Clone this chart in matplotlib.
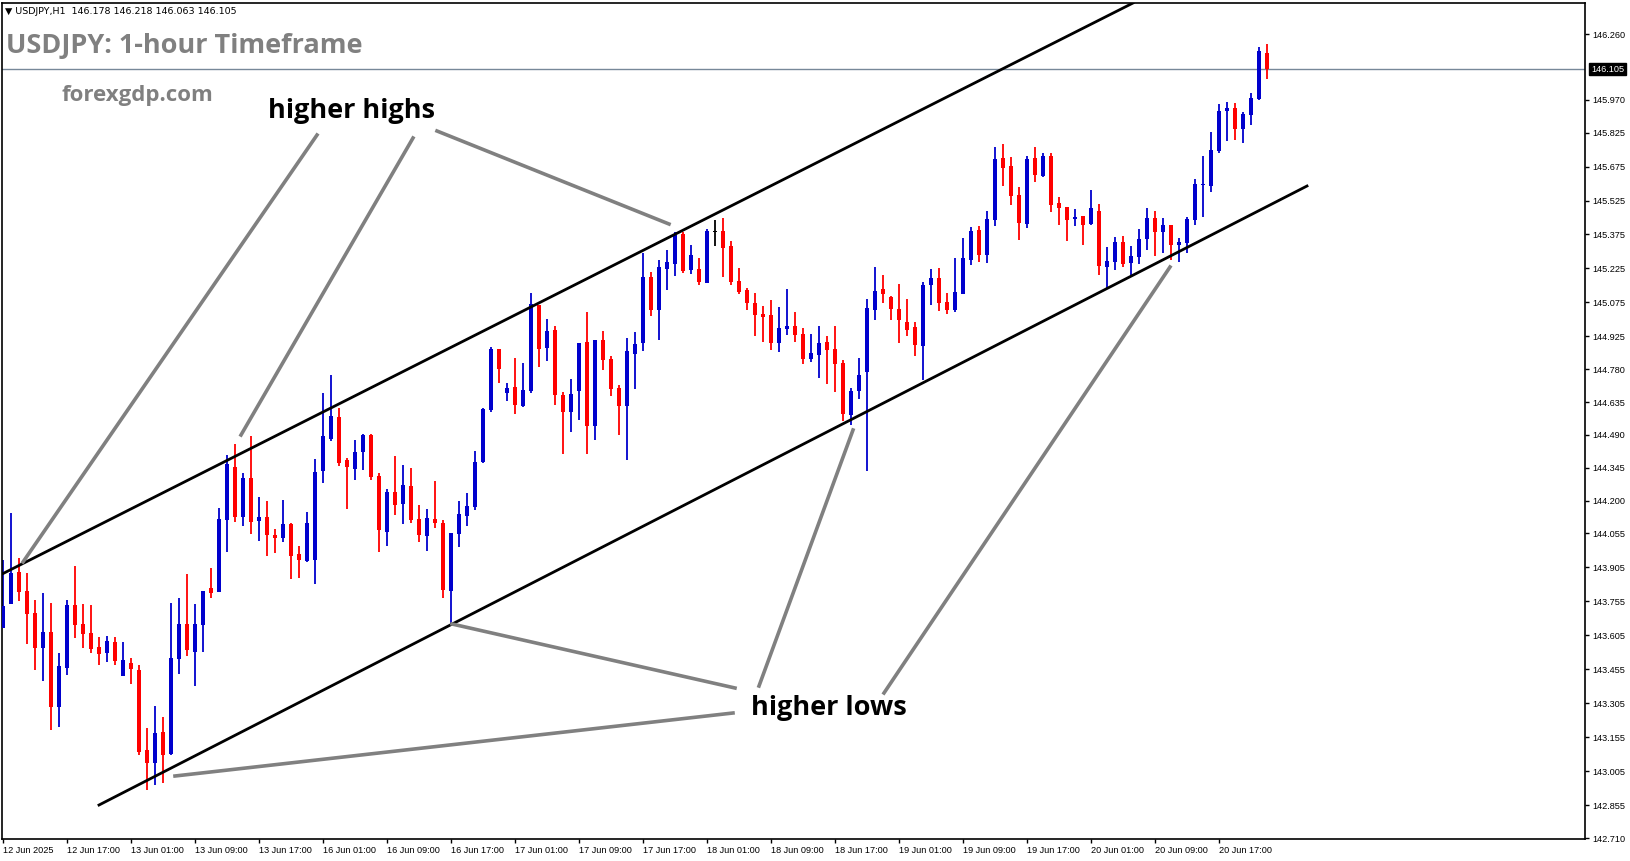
import matplotlib
matplotlib.use("Agg")
import matplotlib.pyplot as plt
import numpy as np

# OHLC per hourly bar (12 Jun 2025 09:00 ... 20 Jun 2025 18:00, weekend skipped)
opens = [143.637,143.743,143.885,143.801,143.704,143.549,143.620,143.289,143.461,143.739,
         143.655,143.615,143.554,143.527,143.576,143.425,143.483,143.452,143.099,143.041,
         143.178,143.081,143.501,143.655,143.532,143.651,143.814,143.796,144.114,144.348,
         144.127,144.300,144.110,144.127,144.048,144.035,144.097,143.964,143.933,143.938,
         144.330,144.472,144.569,144.379,144.339,144.414,144.490,144.309,144.061,144.238,
         144.185,144.264,144.119,144.044,144.119,144.101,143.801,144.053,144.132,144.172,
         144.370,144.600,144.869,144.675,144.702,144.618,144.684,145.063,144.874,144.953,
         144.666,144.591,144.684,144.900,144.529,144.909,144.825,144.697,144.618,144.847,
         144.896,145.187,145.041,145.222,145.244,145.377,145.218,145.222,145.160,145.390,
         145.390,145.324,145.169,145.130,145.072,145.024,145.019,144.896,144.958,144.971,
         144.935,144.825,144.843,144.900,144.869,144.807,144.578,144.684,144.768,145.041,
         145.134,145.099,145.046,144.988,144.966,144.882,145.152,145.183,145.077,145.041,
         145.112,145.262,145.395,145.284,145.439,145.712,145.677,145.549,145.421,145.712,
         145.633,145.721,145.514,145.496,145.443,145.456,145.421,145.478,145.231,145.253,
         145.342,145.249,145.275,145.355,145.447,145.386,145.417,145.328,145.337,145.439,
         145.593,145.589,145.743,145.920,145.933,145.840,145.902,145.973,146.178]
highs = [143.938,144.145,143.947,143.880,143.761,143.792,143.748,143.527,143.761,143.911,
         143.743,143.739,143.598,143.602,143.598,143.576,143.505,143.474,143.196,143.293,
         143.244,143.748,143.770,143.876,143.743,143.801,143.902,144.167,144.401,144.450,
         144.322,144.485,144.216,144.198,144.075,144.202,144.101,143.999,144.150,144.384,
         144.675,144.754,144.609,144.388,144.467,144.494,144.494,144.322,144.251,144.397,
         144.357,144.344,144.180,144.163,144.287,144.114,144.057,144.198,144.233,144.419,
         144.609,144.878,144.869,144.719,144.829,144.807,145.116,145.063,145.002,144.971,
         144.679,144.737,144.896,145.033,144.909,144.949,144.838,144.710,144.918,144.944,
         145.293,145.209,145.262,145.306,145.386,145.386,145.328,145.271,145.399,145.439,
         145.447,145.346,145.227,145.139,145.116,145.059,145.086,145.055,145.134,145.033,
         144.962,144.935,144.971,144.927,144.971,144.821,144.697,144.829,145.090,145.231,
         145.196,145.103,145.156,145.090,144.988,145.165,145.222,145.227,145.116,145.271,
         145.359,145.408,145.412,145.478,145.761,145.774,145.717,145.584,145.721,145.761,
         145.735,145.735,145.540,145.496,145.487,145.456,145.571,145.509,145.320,145.364,
         145.368,145.324,145.399,145.492,145.478,145.447,145.417,145.359,145.452,145.620,
         145.721,145.827,145.951,145.960,145.955,145.916,145.999,146.202,146.218]
lows = [143.637,143.743,143.757,143.567,143.452,143.403,143.187,143.200,143.430,143.593,
        143.549,143.527,143.474,143.487,143.474,143.425,143.390,143.077,142.922,142.944,
        142.953,143.077,143.434,143.514,143.381,143.532,143.770,143.796,143.973,144.105,
        144.088,144.053,144.022,143.955,143.969,144.017,143.854,143.858,143.929,143.832,
        144.278,144.463,144.353,144.163,144.291,144.335,144.291,143.973,143.999,144.136,
        144.097,144.101,144.017,143.977,144.079,143.770,143.655,143.995,144.088,144.158,
        144.366,144.591,144.719,144.640,144.582,144.613,144.675,144.790,144.816,144.622,
        144.406,144.503,144.556,144.406,144.467,144.776,144.662,144.490,144.379,144.693,
        144.860,145.015,144.909,145.130,145.191,145.205,145.200,145.152,145.160,145.324,
        145.187,145.152,145.112,145.041,144.927,144.900,144.865,144.856,144.931,144.900,
        144.803,144.812,144.741,144.715,144.679,144.551,144.534,144.648,144.330,144.997,
        145.072,144.997,144.896,144.927,144.838,144.732,145.063,145.037,145.024,145.033,
        145.112,145.240,145.253,145.249,145.412,145.589,145.505,145.350,145.403,145.606,
        145.629,145.474,145.417,145.346,145.412,145.328,145.417,145.196,145.134,145.218,
        145.231,145.187,145.244,145.306,145.280,145.293,145.262,145.253,145.293,145.417,
        145.452,145.562,145.735,145.787,145.792,145.779,145.858,145.969,146.063]
closes = [143.735,143.880,143.796,143.699,143.549,143.620,143.289,143.470,143.739,143.651,
          143.611,143.545,143.523,143.580,143.492,143.496,143.456,143.090,143.041,143.174,
          143.077,143.505,143.655,143.540,143.655,143.801,143.792,144.119,144.361,144.127,
          144.300,144.105,144.127,144.048,144.035,144.097,143.955,143.938,144.101,144.326,
          144.485,144.573,144.366,144.348,144.414,144.490,144.304,144.070,144.238,144.180,
          144.269,144.114,144.048,144.123,144.101,143.805,144.057,144.141,144.176,144.370,
          144.604,144.869,144.781,144.697,144.622,144.688,145.068,144.869,144.949,144.666,
          144.591,144.670,144.896,144.529,144.909,144.821,144.693,144.618,144.860,144.891,
          145.187,145.041,145.231,145.253,145.372,145.214,145.284,145.165,145.390,145.390,
          145.315,145.165,145.121,145.072,145.019,145.010,144.896,144.962,144.971,144.931,
          144.825,144.852,144.896,144.865,144.803,144.582,144.684,144.754,145.050,145.125,
          145.112,145.046,144.997,144.953,144.887,145.152,145.183,145.072,145.041,145.121,
          145.271,145.390,145.284,145.443,145.708,145.668,145.545,145.425,145.708,145.637,
          145.721,145.505,145.492,145.439,145.452,145.417,145.492,145.236,145.258,145.342,
          145.244,145.280,145.355,145.447,145.386,145.417,145.328,145.342,145.443,145.598,
          145.598,145.748,145.920,145.933,145.840,145.907,145.977,146.185,146.105]

price_ticks = [146.260,145.970,145.825,145.675,145.525,145.375,145.225,145.075,144.925,
               144.780,144.635,144.490,144.345,144.200,144.055,143.905,143.755,143.605,
               143.455,143.305,143.155,143.005,142.855,142.710]
time_labels = ["12 Jun 2025","12 Jun 17:00","13 Jun 01:00","13 Jun 09:00","13 Jun 17:00",
               "16 Jun 01:00","16 Jun 09:00","16 Jun 17:00","17 Jun 01:00","17 Jun 09:00",
               "17 Jun 17:00","18 Jun 01:00","18 Jun 09:00","18 Jun 17:00","19 Jun 01:00",
               "19 Jun 09:00","19 Jun 17:00","20 Jun 01:00","20 Jun 09:00","20 Jun 17:00"]
upper_line = ([0, 141.25], [143.878, 146.397])
lower_line = ([12, 163], [142.856, 145.589])
last_price = 146.105

W, H = 1631, 861
fig = plt.figure(figsize=(W/100, H/100), dpi=100)
fig.patch.set_facecolor("white")
ax = fig.add_axes([2/W, 1-839/H, (1585-2)/W, (839-3)/H])

o = np.array(opens); h = np.array(highs); l = np.array(lows); c = np.array(closes)
idx = np.arange(len(o))
BLUE, RED = "#0000CD", "#FF0000"
cols = np.where(c > o, BLUE, np.where(c < o, RED, "black"))
ax.vlines(idx, l, h, colors=cols, linewidth=1.3, zorder=2)
body = np.where(np.abs(c-o) < 0.004, 0.004, c-o)
ax.bar(idx, body, bottom=np.where(np.abs(c-o) < 0.004, o-0.002, o), width=0.62,
       color=cols, linewidth=0, zorder=3)

ax.plot(*upper_line, color="black", lw=2, zorder=4)
ax.plot(*lower_line, color="black", lw=2, zorder=4)
ax.axhline(last_price, color="#778899", lw=1, zorder=1)

ax.set_xlim(-0.125, 197.75)
ax.set_ylim(142.706, 146.397)
ax.yaxis.tick_right()
ax.set_yticks(price_ticks)
ax.set_yticklabels([f"{p:.3f}" for p in price_ticks], fontsize=6.6, family="Liberation Sans")
ax.set_xticks(np.arange(len(time_labels))*8)
ax.set_xticklabels(time_labels, fontsize=6.6, ha="left", family="Liberation Sans")
ax.tick_params(axis="both", length=3, width=1, pad=2, colors="black")
for s in ax.spines.values():
    s.set_linewidth(1.2)
ax.text(1.004, (last_price-142.706)/(146.397-142.706), f"{last_price:.3f}",
        transform=ax.transAxes, fontsize=6.6, color="white", va="center", ha="left",
        family="Liberation Sans",
        bbox=dict(boxstyle="square,pad=0.2", fc="black", ec="black"), zorder=10, clip_on=False)

def fx(x): return x / W
def fy(y): return 1 - y / H

fig.text(fx(5), fy(11), "▼ USDJPY,H1  146.178 146.218 146.063 146.105", fontsize=6.8,
         va="center", ha="left", family="DejaVu Sans")
fig.text(fx(6), fy(46), "USDJPY: 1-hour Timeframe", fontsize=19.5, color="#808080",
         weight="bold", va="center", ha="left", family="Open Sans")
fig.text(fx(62), fy(95), "forexgdp.com", fontsize=16, color="#808080",
         weight="bold", va="center", ha="left", family="Open Sans")
fig.text(fx(268), fy(111), "higher highs", fontsize=19.5, color="black",
         weight="bold", va="center", ha="left", family="Open Sans")
fig.text(fx(751), fy(708), "higher lows", fontsize=19.5, color="black",
         weight="bold", va="center", ha="left", family="Open Sans")

segs = [((317,135),(23,562)), ((413,138),(241,435)), ((437,131),(669,224)),
        ((735,688),(452,624)), ((733,713),(175,776)), ((759,686),(853,430)),
        ((884,693),(1170,267))]
for (x1,y1),(x2,y2) in segs:
    fig.add_artist(plt.Line2D([fx(x1),fx(x2)],[fy(y1),fy(y2)], color="#808080", lw=2.6))

fig.savefig("out.png", dpi=100, facecolor="white")
